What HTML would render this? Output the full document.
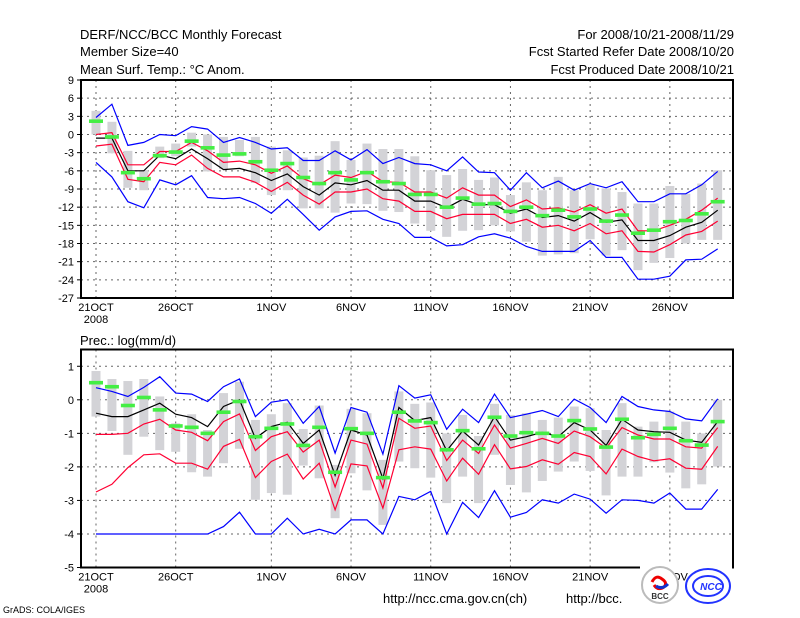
<!DOCTYPE html>
<html><head><meta charset="utf-8">
<style>
html,body{margin:0;padding:0;background:#fff;}
svg{display:block;font-family:"Liberation Sans",sans-serif;}
</style></head>
<body>
<svg id="c" width="800" height="618" viewBox="0 0 800 618" xmlns="http://www.w3.org/2000/svg">
<text x="80" y="39" font-size="13">DERF/NCC/BCC Monthly Forecast</text>
<text x="80" y="56" font-size="13">Member Size=40</text>
<text x="80" y="74" font-size="13">Mean Surf. Temp.: °C Anom.</text>
<text x="734" y="39" font-size="13" text-anchor="end">For 2008/10/21-2008/11/29</text>
<text x="734" y="56" font-size="13" text-anchor="end">Fcst Started Refer Date 2008/10/20</text>
<text x="734" y="74" font-size="13" text-anchor="end">Fcst Produced Date 2008/10/21</text>
<text x="80" y="345" font-size="13">Prec.: log(mm/d)</text>
<text x="383" y="603" font-size="13">http://ncc.cma.gov.cn(ch)</text>
<text x="566" y="603" font-size="13">http://bcc.</text>
<text x="3" y="613" font-size="9">GrADS: COLA/IGES</text>
<g id="top"></g><g id="bot"></g>
<rect x="640" y="563" width="92" height="8" fill="#fff"/>
<g>
<circle cx="660" cy="585" r="18" fill="#fff" stroke="#bbb" stroke-width="2"/>
<path d="M652 582 q4 -8 10 -3 q6 4 2 8 q-6 4 -10 -2" fill="none" stroke="#e00" stroke-width="3"/>
<path d="M656 586 q6 4 12 -2" fill="none" stroke="#13c" stroke-width="3"/>
<text x="660" y="599" font-size="8" font-weight="bold" text-anchor="middle" fill="#333">BCC</text>
</g>
<g>
<ellipse cx="708" cy="586" rx="22" ry="17" fill="#fff" stroke="#23f" stroke-width="2"/>
<ellipse cx="708" cy="586" rx="15" ry="10" fill="none" stroke="#23f" stroke-width="2"/>
<text x="711" y="590" font-size="10" font-weight="bold" font-style="italic" text-anchor="middle" fill="#23f">NCC</text>
</g>
</svg>
<script>
// ---- data: top panel (temperature anomaly) ----
const dayLabels=["21OCT","26OCT","1NOV","6NOV","11NOV","16NOV","21NOV","26NOV"];
const labelDays=[0,5,11,16,21,26,31,36];
const tTicks=[9,6,3,0,-3,-6,-9,-12,-15,-18,-21,-24,-27];
const tBlueHi=[2.8,5,-1.8,-1.3,0,-0.2,1.3,0.9,-1.3,-0.5,-1.3,-2.4,-2.2,-4.3,-4.3,-2.7,-4.2,-2.5,-4.8,-3.8,-4.8,-5,-6,-3.7,-6.2,-6.3,-9.2,-6.3,-8.8,-7.7,-9.2,-8.1,-8.8,-7.8,-11.1,-11.1,-9.8,-9.8,-8.3,-6.1];
const tRedHi=[0,0.3,-5,-5,-2.8,-2.8,-1.3,-2.7,-4.6,-4.4,-5,-6.4,-5.2,-7.3,-8.3,-6.7,-7.1,-6.1,-7.8,-7.9,-9.5,-9.5,-10.5,-8.8,-10,-10,-11.9,-10.8,-12.3,-12.1,-12.8,-11.6,-13,-12.3,-15.9,-15.9,-15,-14,-12.5,-10.5];
const tMean=[-0.6,-0.6,-6,-6,-3.4,-4,-2.4,-4,-5.8,-5.6,-6.3,-7.6,-6.5,-8.6,-10,-8,-8.3,-7.6,-9.2,-9.2,-11,-11,-12.1,-10.7,-11.6,-11.6,-13,-12.3,-13.7,-13.4,-14.3,-12.9,-14.5,-14.1,-17.5,-17.5,-16.7,-15.3,-14.5,-12.5];
const tRedLo=[-1.9,-1.6,-7.4,-7.8,-4.6,-5,-3.4,-5.6,-7,-7,-7.9,-9.4,-7.9,-10,-11.5,-9.5,-9.5,-9,-10.6,-11,-12.7,-12.7,-13.9,-13.2,-13.2,-13.2,-14.7,-14,-15.3,-15,-15.9,-14.7,-16.4,-15.9,-19.3,-19.4,-18.2,-16.6,-16,-14.3];
const tBlueLo=[-4.6,-7,-11.1,-12.1,-7.5,-8.3,-6.8,-10.4,-10.6,-10.4,-11.4,-13,-10.7,-13.2,-15.8,-13.6,-12.7,-12.6,-14,-14.7,-17,-17,-18.4,-18.2,-16.9,-16.4,-17.1,-18.5,-19.3,-19.3,-19.3,-17.5,-20.3,-20.3,-23.9,-23.9,-23.4,-20.7,-20.6,-18.9];
const tGreen=[2.2,-0.4,-6.3,-7.3,-3.5,-2.9,-1.1,-2.2,-3.4,-3.2,-4.5,-5.9,-4.8,-7.1,-8.1,-6.3,-7.5,-6.3,-7.8,-8.1,-9.9,-9.9,-12,-10.5,-11.5,-11.4,-12.7,-12,-13.4,-12.5,-13.6,-12.3,-14.3,-13.3,-16.3,-15.8,-14.4,-14.2,-13.1,-11.1];
const tBarHi=[3.9,2.1,-2.7,-5.9,-2,-1.5,0.3,0,-0.4,-0.9,-0.4,-2,-2.6,-3.8,-3.5,-1.1,-4.2,-1.5,-2.4,-2.4,-3.6,-5.9,-6.7,-5.7,-7.5,-7.1,-10,-7.9,-9.2,-7,-9.2,-8.3,-8.9,-9.5,-11.4,-11.4,-8.5,-9.8,-8.1,-5.9];
const tBarLo=[0,-3.1,-8.8,-9.2,-3.9,-3.6,-2,-6.1,-5.7,-3.6,-8,-10,-9.2,-12.2,-12.2,-12.9,-11.4,-11.5,-12.6,-12.8,-14.7,-15.9,-16.9,-15.9,-15.8,-15,-16,-17.7,-20,-19.8,-19.6,-17.3,-20,-19.1,-22.4,-21.2,-20.4,-18,-17.4,-17.4];
// ---- data: bottom panel (precipitation) ----
const pTicks=[1,0,-1,-2,-3,-4,-5];
const pBlueHi=[0.36,0.25,0.1,0.37,0.69,0.2,0.17,-0.05,0.39,0.62,-0.5,-0.07,0,-0.7,-0.2,-1.59,-0.23,-0.37,-1.62,0.42,0.05,0.15,-0.88,-0.28,-0.68,0.17,-0.53,-0.43,-0.32,-0.5,0.02,-0.23,-0.68,0.1,-0.2,-0.3,-0.35,-0.57,-0.63,0.03];
const pRedHi=[-1.03,-1.03,-1,-0.72,-0.58,-0.9,-0.97,-1.22,-0.65,-0.42,-1.51,-1.1,-0.95,-1.56,-1.2,-2.6,-1.2,-1.32,-2.63,-0.55,-0.85,-0.78,-1.81,-1.2,-1.6,-0.75,-1.44,-1.3,-1.15,-1.3,-0.93,-1.1,-1.44,-0.83,-1.05,-1.17,-1.17,-1.4,-1.44,-0.83];
const pMean=[-0.4,-0.5,-0.5,-0.3,-0.1,-0.43,-0.53,-0.8,-0.2,0,-1.15,-0.8,-0.67,-1.3,-0.9,-2.25,-0.9,-1.05,-2.35,-0.23,-0.62,-0.53,-1.52,-0.93,-1.35,-0.5,-1.2,-1.1,-0.97,-1.1,-0.68,-0.9,-1.36,-0.58,-0.9,-0.95,-0.97,-1.2,-1.27,-0.65];
const pRedLo=[-2.75,-2.52,-2.02,-1.64,-1.61,-1.89,-1.89,-2.07,-1.39,-1.18,-2.32,-1.84,-1.62,-2.36,-1.89,-3.28,-1.91,-1.97,-3.23,-1.49,-1.4,-1.47,-2.42,-1.74,-2.22,-1.34,-2.06,-1.99,-1.79,-1.92,-1.57,-1.69,-2.21,-1.47,-1.69,-1.82,-1.76,-2.04,-2.07,-1.39];
const pBlueLo=[-4,-4,-4,-4,-4,-4,-4,-4,-3.78,-3.35,-4,-4,-3.53,-4,-3.86,-4,-3.58,-3.58,-4,-2.88,-2.98,-2.73,-4,-3.06,-3.51,-2.71,-3.5,-3.36,-2.98,-3.08,-2.81,-2.96,-3.38,-2.98,-3,-3.08,-2.78,-3.26,-3.26,-2.67];
const pGreen=[0.51,0.39,-0.17,0.07,-0.3,-0.78,-0.82,-1,-0.37,-0.05,-1.1,-0.85,-0.72,-1.36,-0.82,-2.16,-0.86,-1,-2.32,-0.37,-0.63,-0.68,-1.49,-0.92,-1.46,-0.52,-1.08,-0.98,-1,-1.08,-0.62,-0.87,-1.41,-0.58,-1.13,-1.03,-0.85,-1.22,-1.35,-0.65];
const pBarHi=[0.86,0.62,0.56,0.62,0.1,-0.7,-0.43,-0.9,0.2,0.54,-0.6,-0.43,-0.1,-0.87,-0.17,-1.94,-0.27,-0.4,-1.79,0.25,-0.12,-0.08,-1,-0.45,-1.08,-0.12,-0.45,-0.4,-0.6,-0.53,-0.2,-0.25,-0.9,-0.1,-0.8,-0.65,-0.35,-0.65,-1,0];
const pBarLo=[-0.5,-0.93,-1.64,-1.1,-1.5,-1.55,-2.16,-2.29,-1.89,-1.46,-2.98,-2.78,-2.83,-1.96,-2.34,-3.53,-2.19,-2.7,-3.73,-1.84,-2.04,-2.32,-3.08,-2.29,-3.08,-1.64,-2.54,-2.76,-2.42,-2.14,-1.84,-2.12,-2.85,-2.29,-2.29,-1.86,-2.17,-2.64,-2.52,-1.99];

const NS='http://www.w3.org/2000/svg';
function mk(parent,tag,attrs){const e=document.createElementNS(NS,tag);for(const k in attrs)e.setAttribute(k,attrs[k]);parent.appendChild(e);return e;}
const xOf=d=>96+d*15.94;

function panel(g,cfg){
  const yOf=v=>cfg.top+(cfg.vmax-v)/(cfg.vmax-cfg.vmin)*(cfg.bot-cfg.top);
  cfg.ticks.forEach(v=>{
    const y=yOf(v);
    if(v!==cfg.vmax&&v!==cfg.vmin){const l=mk(g,'line',{x1:81,x2:733,y1:y,y2:y,stroke:'#666','stroke-width':1,'stroke-dasharray':'2,4'});
    
    }
    const tk=mk(g,'line',{x1:77,x2:81,y1:y,y2:y,stroke:'#000'});
    
    
    const t=mk(g,'text',{x:74,y:y+4,'font-size':11,'text-anchor':'end'});
    t.textContent=v;
    
    
  });
  labelDays.forEach((d,i)=>{
    const x=xOf(d);
    const l=mk(g,'line',{x1:x,x2:x,y1:cfg.top,y2:cfg.bot,stroke:'#666','stroke-dasharray':'2,4'});
    
    
    const t=mk(g,'text',{x:x,y:cfg.bot+13,'font-size':11,'text-anchor':'middle'});
    t.textContent=dayLabels[i];
    
    
  });
  const yr=mk(g,'text',{x:96,y:cfg.bot+25,'font-size':11,'text-anchor':'middle'});
  yr.textContent='2008';
  
  
  cfg.barHi.forEach((h,d)=>{
    const y1=yOf(h),y2=yOf(cfg.barLo[d]);
    const r=mk(g,'rect',{x:xOf(d)-4.5,y:y1,width:9,height:y2-y1,fill:'#d3d3d7'});
    
    
  });
  const line=(arr,col,name)=>{
    const p=mk(g,'polyline',{points:arr.map((v,d)=>xOf(d).toFixed(1)+','+yOf(v).toFixed(1)).join(' '),fill:'none',stroke:col,'stroke-width':1.2});
    
    
  };
  line(cfg.blueHi,'#0000ff','upper-blue-line');
  line(cfg.blueLo,'#0000ff','lower-blue-line');
  line(cfg.redHi,'#ff0033','upper-red-line');
  line(cfg.redLo,'#ff0033','lower-red-line');
  line(cfg.mean,'#000','mean-line');
  cfg.green.forEach((v,d)=>{
    const r=mk(g,'rect',{x:xOf(d)-7,y:yOf(v)-1.8,width:14,height:3.6,fill:'#44ee44'});
    
    
  });
  const f=mk(g,'path',{d:cfg.frame,fill:'none',stroke:'#000','stroke-width':2});
  
  
}
panel(document.getElementById('top'),{top:80,bot:298,vmax:9,vmin:-27,ticks:tTicks,blueHi:tBlueHi,blueLo:tBlueLo,redHi:tRedHi,redLo:tRedLo,mean:tMean,green:tGreen,barHi:tBarHi,barLo:tBarLo,frame:'M81 80 H733 V298 H81 Z'});
panel(document.getElementById('bot'),{top:349.5,bot:567.5,vmax:1.5,vmin:-5,ticks:pTicks,blueHi:pBlueHi,blueLo:pBlueLo,redHi:pRedHi,redLo:pRedLo,mean:pMean,green:pGreen,barHi:pBarHi,barLo:pBarLo,frame:'M81 349.5 H733 V567.5 H81 Z'});
</script>
</body></html>
